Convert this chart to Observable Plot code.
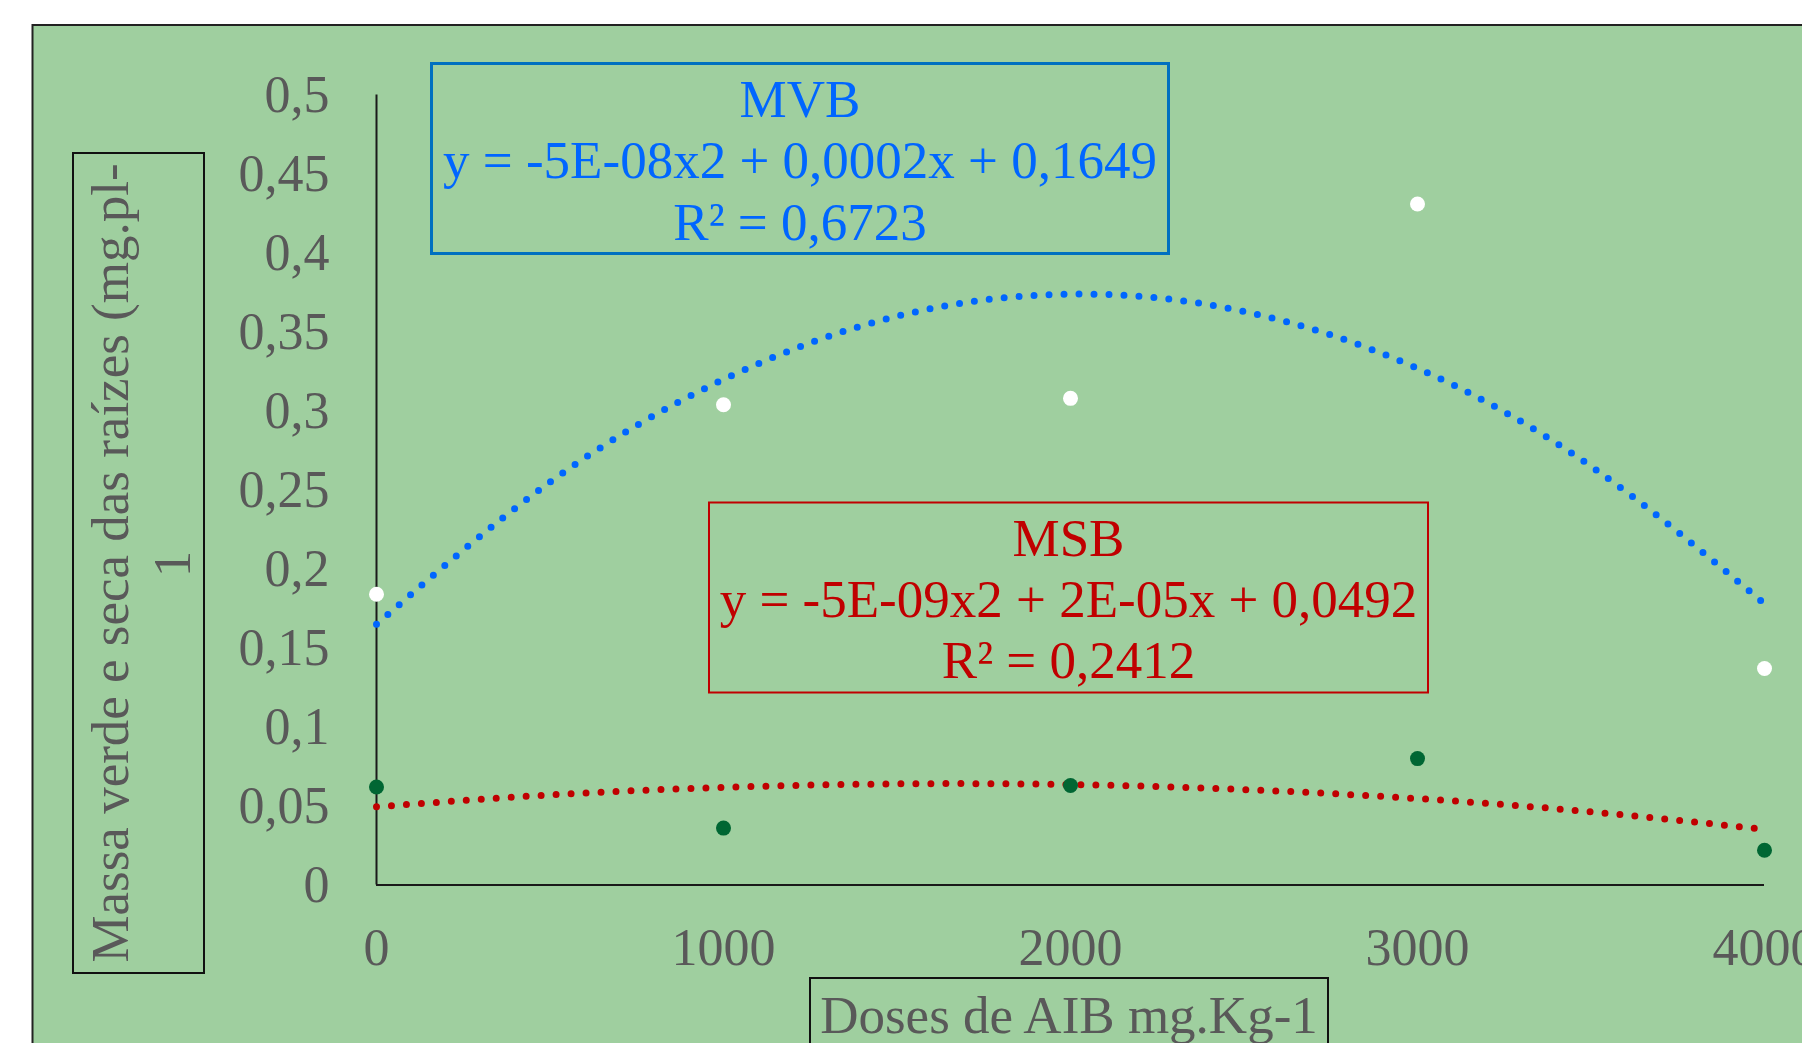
<!DOCTYPE html>
<html><head><meta charset="utf-8">
<script src="https://cdn.jsdelivr.net/npm/d3@7"></script>
<script src="https://cdn.jsdelivr.net/npm/@observablehq/plot@0.6"></script>
<style>
html,body{margin:0;padding:0;background:#fff;overflow:hidden}
#wrap{position:relative;width:1802px;height:1043px;overflow:hidden}
#wrap>svg{position:absolute;left:0;top:0}
</style></head><body><div id="wrap"></div>
<script>
// ---- data ----
const doses = [0, 1000, 2000, 3000, 4000];
const mvb = [0.184, 0.304, 0.308, 0.431, 0.137];      // Massa verde (white points)
const msb = [0.062, 0.036, 0.063, 0.080, 0.022];      // Massa seca (dark green points)
const trendX = [0, 500, 1000, 1500, 2000, 2500, 3000, 3500, 4000];
const mvbTrend = [0.165, 0.255, 0.320, 0.360, 0.374, 0.363, 0.327, 0.265, 0.178];
const msbTrend = [0.0495, 0.0570, 0.0618, 0.0640, 0.0636, 0.0604, 0.0547, 0.0463, 0.0352];
const yTicks = [0, 0.05, 0.1, 0.15, 0.2, 0.25, 0.3, 0.35, 0.4, 0.45, 0.5];
const xTicks = [0, 1000, 2000, 3000, 4000];
const mvbLabel = ["MVB", "y = -5E-08x2 + 0,0002x + 0,1649", "R² = 0,6723"];
const msbLabel = ["MSB", "y = -5E-09x2 + 2E-05x + 0,0492", "R² = 0,2412"];
const yTitle = ["Massa verde e seca das raízes (mg.pl-", "1"];
const xTitle = "Doses de AIB mg.Kg-1";

const FONT = "'Liberation Serif', 'Times New Roman', serif";
const GRAY = "#595959";
const wrap = document.getElementById("wrap");

// ---- background panel ----
const bg = d3.create("svg").attr("width", 1802).attr("height", 1043);
bg.append("rect").attr("x", 32.5).attr("y", 25).attr("width", 1800).attr("height", 1100)
  .attr("fill", "#9FCF9F").attr("stroke", "#222").attr("stroke-width", 2);
wrap.appendChild(bg.node());

// ---- chart ----
const pts = ys => doses.map((x, i) => ({x, y: ys[i]}));
const trend = ys => trendX.map((x, i) => ({x, y: ys[i]}));
const chart = Plot.plot({
  width: 1802, height: 1043,
  marginTop: 94.5, marginBottom: 158.5, marginLeft: 376, marginRight: 38,
  style: {background: "transparent", fontFamily: FONT, overflow: "visible"},
  x: {domain: [0, 4000], axis: null},
  y: {domain: [0, 0.5], axis: null},
  marks: [
    Plot.axisY({ticks: yTicks, tickSize: 0, tickPadding: 47, tickFormat: d => String(d).replace(".", ","),
      fontSize: 52, fill: GRAY, color: GRAY, label: null}),
    Plot.axisX({ticks: xTicks, tickSize: 0, tickPadding: 43, tickFormat: d => String(d),
      fontSize: 52, fill: GRAY, color: GRAY, label: null}),
    Plot.ruleX([0], {y1: 0, y2: 0.5, stroke: "#1a1a1a", strokeWidth: 2}),
    Plot.ruleY([0], {x1: 0, x2: 4000, stroke: "#1a1a1a", strokeWidth: 2}),
    Plot.line(trend(mvbTrend), {x: "x", y: "y", curve: "natural", stroke: "#0066FF", strokeWidth: 7,
      strokeDasharray: "0 15", strokeLinecap: "round"}),
    Plot.line(trend(msbTrend), {x: "x", y: "y", curve: "natural", stroke: "#C00000", strokeWidth: 7,
      strokeDasharray: "0 15", strokeLinecap: "round"}),
    Plot.dot(pts(mvb), {x: "x", y: "y", r: 7.5, fill: "white"}),
    Plot.dot(pts(msb), {x: "x", y: "y", r: 7.5, fill: "#006633"})
  ]
});
wrap.appendChild(chart);

// ---- annotations: axis titles and equation boxes ----
const an = d3.create("svg").attr("width", 1802).attr("height", 1043)
  .style("font-family", FONT).style("pointer-events", "none");

// y title box
an.append("rect").attr("x", 73).attr("y", 153).attr("width", 131).attr("height", 820)
  .attr("fill", "none").attr("stroke", "#111").attr("stroke-width", 2);
an.append("text").attr("transform", "translate(128,563) rotate(-90)").attr("text-anchor", "middle")
  .attr("font-size", 53).attr("fill", GRAY).text(yTitle[0]);
an.append("text").attr("transform", "translate(190,564) rotate(-90)").attr("text-anchor", "middle")
  .attr("font-size", 53).attr("fill", GRAY).text(yTitle[1]);

// x title box
an.append("rect").attr("x", 810).attr("y", 978).attr("width", 518).attr("height", 120)
  .attr("fill", "none").attr("stroke", "#111").attr("stroke-width", 2);
an.append("text").attr("x", 1069).attr("y", 1033).attr("text-anchor", "middle")
  .attr("font-size", 53).attr("fill", GRAY).text(xTitle);

// MVB box
an.append("rect").attr("x", 431.5).attr("y", 63.5).attr("width", 737).attr("height", 190)
  .attr("fill", "none").attr("stroke", "#0070C0").attr("stroke-width", 3);
[116.7, 178.3, 240].forEach((y, i) => an.append("text").attr("x", 800).attr("y", y)
  .attr("text-anchor", "middle").attr("font-size", 53).attr("fill", "#0066FF").text(mvbLabel[i]));

// MSB box
an.append("rect").attr("x", 709).attr("y", 502.5).attr("width", 719).attr("height", 190)
  .attr("fill", "none").attr("stroke", "#C00000").attr("stroke-width", 2);
[555.7, 616.7, 678.3].forEach((y, i) => an.append("text").attr("x", 1068.5).attr("y", y)
  .attr("text-anchor", "middle").attr("font-size", 53).attr("fill", "#C00000").text(msbLabel[i]));

wrap.appendChild(an.node());
</script>
</body></html>
